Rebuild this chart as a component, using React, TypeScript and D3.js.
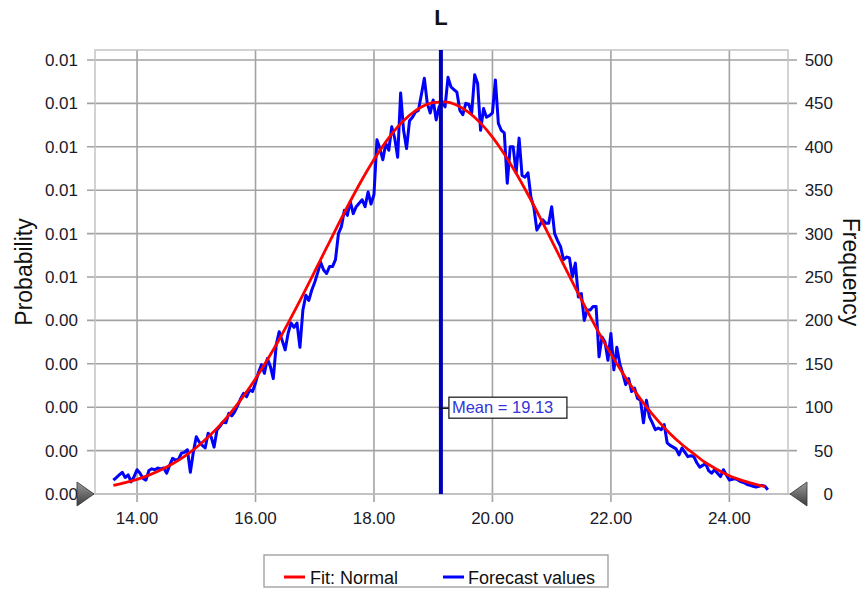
import React from 'react'
import * as d3 from 'd3'

// forecast histogram (frequency per bin), bins every 0.05 starting at 13.60
const binStart = 13.6
const binStep = 0.05
const forecastValues = [
  16, 19, 22, 25, 19, 22, 14, 20,
  28, 24, 18, 16, 27, 29, 28, 30, 29, 30, 24, 33, 41, 39, 40, 47, 48, 51, 25, 48,
  66, 60, 56, 53, 70, 66, 54, 74, 78, 83, 82, 93, 90, 95, 102, 110, 116, 112, 120, 118,
  128, 140, 149, 139, 156, 147, 133, 172, 187, 177, 166, 185, 197, 192, 197, 169, 212, 229, 223, 235,
  244, 255, 267, 258, 254, 262, 262, 270, 300, 308, 327, 321, 337, 323, 331, 335, 339, 331, 348, 334,
  345, 408, 398, 385, 404, 396, 423, 410, 388, 462, 419, 398, 430, 434, 440, 442, 460, 479, 450, 439,
  454, 431, 446, 452, 446, 480, 469, 466, 463, 442, 437, 450, 449, 439, 483, 473, 419, 444, 434, 436,
  439, 477, 427, 419, 416, 358, 400, 400, 370, 410, 367, 365, 370, 342, 330, 304, 310, 316, 312, 312,
  331, 300, 292, 285, 270, 273, 272, 250, 266, 227, 231, 200, 212, 212, 216, 216, 158, 181, 175, 154,
  185, 143, 169, 150, 139, 126, 133, 118, 122, 110, 108, 82, 108, 89, 82, 74, 76, 74, 80, 59,
  56, 54, 52, 45, 53, 48, 43, 44, 43, 36, 31, 33, 35, 27, 24, 28, 24, 20, 28, 22,
  16, 17, 18, 16, 14, 13, 11, 10, 9, 8, 9, 10, 9, 5,
]

// fitted normal curve, read every 0.2 from 13.6
const fitX = [
  13.6, 13.8, 14.0, 14.2, 14.4, 14.6, 14.8, 15.0, 15.2, 15.4, 15.6, 15.8, 16.0, 16.2, 16.4, 16.6, 16.8, 17.0, 17.2,
  17.4, 17.6, 17.8, 18.0, 18.2, 18.4, 18.6, 18.8, 19.0, 19.2, 19.4, 19.6, 19.8, 20.0, 20.2, 20.4, 20.6, 20.8,
  21.0, 21.2, 21.4, 21.6, 21.8, 22.0, 22.2, 22.4, 22.6, 22.8, 23.0, 23.2, 23.4, 23.6, 23.8, 24.0, 24.2, 24.4, 24.6,
]
const fitValues = [
  9.9, 13.0, 16.8, 21.7, 27.6, 34.8, 43.4, 53.6, 65.6, 79.4, 95.2, 113.0, 132.8, 154.6, 178.0, 203.1, 229.3, 256.4, 283.8,
  310.9, 337.3, 362.3, 385.3, 405.7, 422.9, 436.4, 445.9, 451.0, 451.7, 447.9, 439.7, 427.3, 411.2, 391.7, 369.5, 345.0, 319.0,
  291.9, 264.6, 237.4, 210.9, 185.4, 161.4, 139.2, 118.8, 100.3, 83.9, 69.5, 57.0, 46.3, 36.0, 28.0, 21.0, 16.0, 12.0, 8.5,
]

const meanValue = 19.13
const xTicks = [14, 16, 18, 20, 22, 24]
const freqTicks = [0, 50, 100, 150, 200, 250, 300, 350, 400, 450, 500]
const probLabels = ['0.00', '0.00', '0.00', '0.00', '0.00', '0.01', '0.01', '0.01', '0.01', '0.01', '0.01']

const W = 864, H = 601
const left = 95, right = 788, top = 50, bottom = 494
const font = '"Liberation Sans", Arial, sans-serif'

export default function App() {
  const x = d3.scaleLinear().domain([13.29, 24.99]).range([left, right])
  const y = d3.scaleLinear().domain([0, 500]).range([bottom, 60])

  const forecast = forecastValues.map((v, i) => [binStart + i * binStep, v] as [number, number])
  const fit = fitValues.map((v, i) => [fitX[i], v] as [number, number])

  const line = d3.line<[number, number]>().x(d => x(d[0])).y(d => y(d[1]))
  const fitLine = d3.line<[number, number]>().x(d => x(d[0])).y(d => y(d[1])).curve(d3.curveMonotoneX)

  const mx = x(meanValue)
  const labelY = y(100)

  return (
    <svg width={W} height={H} style={{ position: 'absolute', left: 0, top: 0, background: '#fff' }}
      fontFamily={font}>
      <defs>
        <linearGradient id="tri" x1="0" y1="0" x2="0" y2="1">
          <stop offset="0" stopColor="#9a9a9a" />
          <stop offset="1" stopColor="#3c3c3c" />
        </linearGradient>
      </defs>

      <text x={x(meanValue)} y={25} textAnchor="middle" fontSize={22} fontWeight="bold" fill="#111">L</text>

      {/* grid */}
      {xTicks.map(t => (
        <g key={'x' + t}>
          <line x1={x(t)} x2={x(t)} y1={top} y2={bottom + 8} stroke="#a3a3a3" strokeWidth={1.6} />
          <text x={x(t)} y={524} textAnchor="middle" fontSize={17} fill="#1a1a2a">{t.toFixed(2)}</text>
        </g>
      ))}
      {freqTicks.map((t, i) => (
        <g key={'y' + t}>
          <line x1={left - 8} x2={right + 9} y1={y(t)} y2={y(t)} stroke="#a3a3a3" strokeWidth={1.6} />
          <text x={78} y={y(t)} dy="0.35em" textAnchor="end" fontSize={17} fill="#1a1a2a">{probLabels[i]}</text>
          <text x={833} y={y(t)} dy="0.35em" textAnchor="end" fontSize={17} fill="#1a1a2a">{t}</text>
        </g>
      ))}
      <rect x={left} y={top} width={right - left} height={bottom - top} fill="none" stroke="#c4c4c4" strokeWidth={1.5} />

      {/* series */}
      <path d={line(forecast) || ''} fill="none" stroke="#0000ff" strokeWidth={3} strokeLinejoin="round" />
      <path d={fitLine(fit) || ''} fill="none" stroke="#ff0000" strokeWidth={2.8} />

      {/* mean marker */}
      <line x1={mx} x2={mx} y1={top} y2={bottom} stroke="#0000b4" strokeWidth={4} />
      <line x1={mx - 2} x2={mx + 8} y1={labelY + 1} y2={labelY + 1} stroke="#111" strokeWidth={1.5} />
      <rect x={mx + 8} y={labelY - 10} width={118} height={21} fill="#fff" stroke="#222" strokeWidth={1.3} />
      <text x={mx + 11} y={labelY + 6} fontSize={16.5} fill="#3434d8">Mean = {meanValue.toFixed(2)}</text>

      {/* range sliders */}
      <path d={`M${left - 18},${y(0) - 12}L${left - 1},${y(0)}L${left - 18},${y(0) + 12}Z`} fill="url(#tri)" stroke="#333" strokeWidth={0.8} />
      <path d={`M${right + 19},${y(0) - 12}L${right + 2},${y(0)}L${right + 19},${y(0) + 12}Z`} fill="url(#tri)" stroke="#333" strokeWidth={0.8} />

      {/* axis titles */}
      <text transform={`translate(32,${(top + bottom) / 2}) rotate(-90)`} textAnchor="middle" fontSize={23} fill="#111">Probability</text>
      <text transform={`translate(843,${(top + bottom) / 2}) rotate(90)`} textAnchor="middle" fontSize={23} fill="#111">Frequency</text>

      {/* legend */}
      <rect x={264} y={555} width={344} height={32} fill="#fff" stroke="#9a9a9a" strokeWidth={1.3} />
      <line x1={284} x2={305} y1={577} y2={577} stroke="#ff0000" strokeWidth={3} />
      <text x={310} y={584} fontSize={18} fill="#111">Fit: Normal</text>
      <line x1={443} x2={464} y1={577} y2={577} stroke="#0000ff" strokeWidth={3} />
      <text x={468} y={584} fontSize={18} fill="#111">Forecast values</text>
    </svg>
  )
}
